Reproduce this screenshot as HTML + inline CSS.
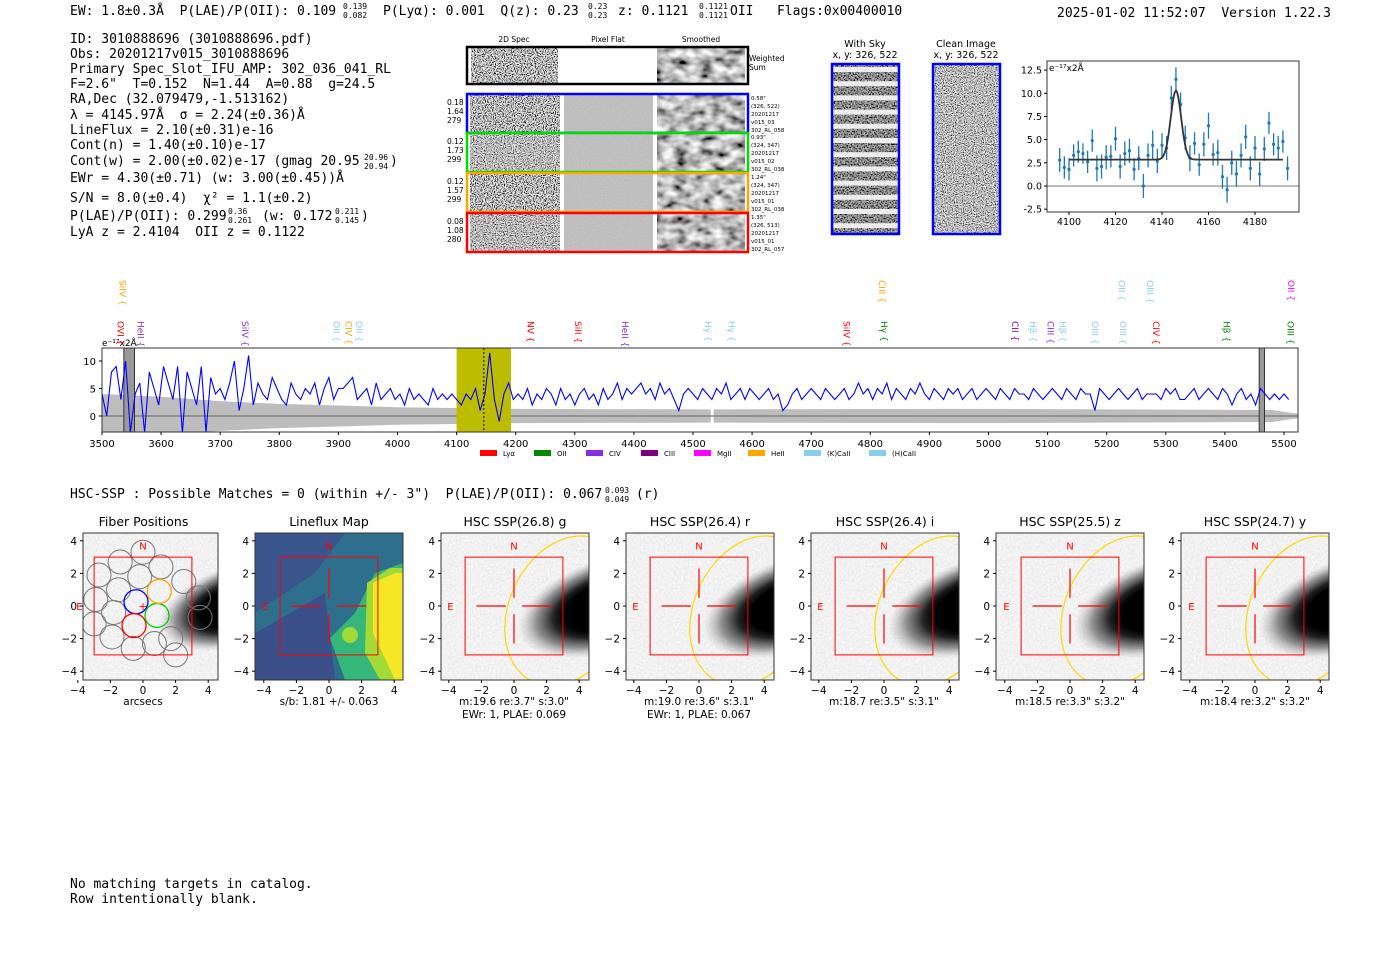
<!DOCTYPE html>
<html><head><meta charset="utf-8">
<style>
html,body{margin:0;padding:0;background:#fff;}
svg{display:block;}
.mono{font-family:"DejaVu Sans Mono","Liberation Mono",monospace;font-size:13px;fill:#000;white-space:pre;}
.sans{font-family:"DejaVu Sans","Liberation Sans",sans-serif;}
</style></head>
<body>
<svg id="root" width="1400" height="953" viewBox="0 0 1400 953" xmlns="http://www.w3.org/2000/svg" xml:space="preserve">
<defs>
<filter id="noiseA" x="0" y="0" width="100%" height="100%"><feTurbulence type="fractalNoise" baseFrequency="0.9" numOctaves="1" seed="3"/><feColorMatrix type="matrix" values="3.2 0 0 0 -1.1  3.2 0 0 0 -1.1  3.2 0 0 0 -1.1  0 0 0 0 1"/></filter>
<filter id="noiseB" x="0" y="0" width="100%" height="100%"><feTurbulence type="fractalNoise" baseFrequency="0.9" numOctaves="1" seed="11"/><feColorMatrix type="matrix" values="2.4 0 0 0 -0.7  2.4 0 0 0 -0.7  2.4 0 0 0 -0.7  0 0 0 0 1"/></filter>
<filter id="smooth" x="0" y="0" width="100%" height="100%"><feTurbulence type="fractalNoise" baseFrequency="0.08 0.12" numOctaves="2" seed="5"/><feColorMatrix type="matrix" values="1.6 0 0 0 -0.3  1.6 0 0 0 -0.3  1.6 0 0 0 -0.3  0 0 0 0 1"/></filter>
<filter id="flat" x="0" y="0" width="100%" height="100%"><feTurbulence type="fractalNoise" baseFrequency="0.9" numOctaves="1" seed="2"/><feColorMatrix type="matrix" values="0.2 0 0 0 0.42  0.2 0 0 0 0.42  0.2 0 0 0 0.42  0 0 0 0 1"/></filter>
<filter id="skyf" x="0" y="0" width="100%" height="100%"><feTurbulence type="fractalNoise" baseFrequency="0.7" numOctaves="1" seed="7"/><feColorMatrix type="matrix" values="1.4 0 0 0 -0.45  1.4 0 0 0 -0.45  1.4 0 0 0 -0.45  0 0 0 0 1"/></filter>
<filter id="lightnoise" x="0" y="0" width="100%" height="100%"><feTurbulence type="fractalNoise" baseFrequency="0.5" numOctaves="1" seed="9"/><feColorMatrix type="matrix" values="0.25 0 0 0 0.76  0.25 0 0 0 0.76  0.25 0 0 0 0.76  0 0 0 0 1"/></filter>
<radialGradient id="galaxy" cx="0.5" cy="0.5" r="0.5"><stop offset="0" stop-color="#000"/><stop offset="0.5" stop-color="#000"/><stop offset="0.62" stop-color="#222"/><stop offset="0.8" stop-color="#777" stop-opacity="0.8"/><stop offset="1" stop-color="#bbb" stop-opacity="0"/></radialGradient>
</defs>

<!-- header -->
<text class="mono" x="70" y="15">EW: 1.8±0.3Å  P(LAE)/P(OII): 0.109</text>
<text class="mono" x="343" y="9" style="font-size:8px">0.139</text>
<text class="mono" x="343" y="18" style="font-size:8px">0.082</text>
<text class="mono" x="383" y="15">P(Lyα): 0.001  Q(z): 0.23</text>
<text class="mono" x="588" y="9" style="font-size:8px">0.23</text>
<text class="mono" x="588" y="18" style="font-size:8px">0.23</text>
<text class="mono" x="618" y="15">z: 0.1121</text>
<text class="mono" x="699" y="9" style="font-size:8px">0.1121</text>
<text class="mono" x="699" y="18" style="font-size:8px">0.1121</text>
<text class="mono" x="730" y="15">OII   Flags:0x00400010</text>
<text class="mono" x="1057" y="17">2025-01-02 11:52:07  Version 1.22.3</text>

<g class="mono">
<text class="mono" x="70" y="43">ID: 3010888696 (3010888696.pdf)</text>
<text class="mono" x="70" y="58">Obs: 20201217v015_3010888696</text>
<text class="mono" x="70" y="73">Primary Spec_Slot_IFU_AMP: 302_036_041_RL</text>
<text class="mono" x="70" y="88">F=2.6"  T=0.152  N=1.44  A=0.88  g=24.5</text>
<text class="mono" x="70" y="103">RA,Dec (32.079479,-1.513162)</text>
<text class="mono" x="70" y="119">λ = 4145.97Å  σ = 2.24(±0.36)Å</text>
<text class="mono" x="70" y="134">LineFlux = 2.10(±0.31)e-16</text>
<text class="mono" x="70" y="149">Cont(n) = 1.40(±0.10)e-17</text>
<text class="mono" x="70" y="165">Cont(w) = 2.00(±0.02)e-17 (gmag 20.95</text>
<text class="mono" x="364" y="160" style="font-size:8px">20.96</text><text class="mono" x="364" y="169" style="font-size:8px">20.94</text><text class="mono" x="390" y="165">)</text>
<text class="mono" x="70" y="182">EWr = 4.30(±0.71) (w: 3.00(±0.45))Å</text>
<text class="mono" x="70" y="202">S/N = 8.0(±0.4)  χ² = 1.1(±0.2)</text>
<text class="mono" x="70" y="220">P(LAE)/P(OII): 0.299</text>
<text class="mono" x="228" y="214" style="font-size:8px">0.36</text><text class="mono" x="228" y="223" style="font-size:8px">0.261</text>
<text class="mono" x="262" y="220">(w: 0.172</text><text class="mono" x="335" y="214" style="font-size:8px">0.211</text><text class="mono" x="335" y="223" style="font-size:8px">0.145</text><text class="mono" x="361" y="220">)</text>
<text class="mono" x="70" y="236">LyA z = 2.4104  OII z = 0.1122</text>
</g>

<g id="cutouts"></g>
<g id="sky"></g>
<g id="fit"></g>
<g id="spec"></g>

<text class="mono" x="70" y="498">HSC-SSP : Possible Matches = 0 (within +/- 3")  P(LAE)/P(OII): 0.067</text>
<text class="mono" x="605" y="493" style="font-size:8px">0.093</text>
<text class="mono" x="605" y="502" style="font-size:8px">0.049</text>
<text class="mono" x="636" y="498">(r)</text>

<g id="panels"></g>

<text class="mono" x="70" y="888">No matching targets in catalog.</text>
<text class="mono" x="70" y="903">Row intentionally blank.</text>
</svg>
<script>
// ---------- data ----------
const fitWave = [4096,4098,4100,4102,4104,4106,4108,4110,4112,4114,4116,4118,4120,4122,4124,4126,4128,4130,4132,4134,4136,4138,4140,4142,4144,4146,4148,4150,4152,4154,4156,4158,4160,4162,4164,4166,4168,4170,4172,4174,4176,4178,4180,4182,4184,4186,4188,4190,4192,4194];
const fitFlux = [2.8,2.0,1.8,3.3,3.7,3.5,2.6,4.9,1.9,2.1,3.1,3.2,5.1,2.1,3.5,3.8,1.8,3.0,0.0,3.3,4.4,2.7,4.4,4.1,9.5,11.5,8.8,5.2,3.0,4.6,2.3,4.5,6.5,3.4,3.6,1.0,-0.4,2.5,1.3,3.3,5.3,1.9,4.1,1.3,4.0,6.8,4.5,4.1,4.8,1.9];
const fitErr = [1.3,1.2,1.2,1.2,1.2,1.1,1.2,1.2,1.4,1.3,1.3,1.2,1.3,1.3,1.3,1.3,1.2,1.3,1.3,1.3,1.6,1.3,1.3,1.3,1.3,1.3,1.3,1.3,1.4,1.2,1.2,1.3,1.4,1.2,1.4,1.3,1.4,1.3,1.4,1.3,1.3,1.3,1.3,1.3,1.3,1.2,1.2,1.3,1.2,1.3];
const fitCont = 2.85, fitPeak = 10.3, fitCenter = 4146, fitSigma = 2.24;
const fitXTicks = [4100,4120,4140,4160,4180];
const fitYTicks = [-2.5,0.0,2.5,5.0,7.5,10.0,12.5];

const specStart = 3500, specStep = 8;
const specFlux = [
4,0,8,9,3,10,-3,4,6,-3,8,5,2,9,6,3,9,-3,8,5,2,9,-3,7,4,5,
3,6,10,1,5,11,2,6,4,3,7,5,3,2,6,4,3,5,4,6,2,5,7,3,5,
5,6,7,3,4,5,2,6,3,4,5,3,4,2,5,3,4,3,2,5,3,4,3,4,3,
2,4,3,5,1,4,11.5,3,-1,4,6,3,
4,3,5,2,4,3,5,4,2,5,3,4,2,4,5,3,4,2,5,3,4,6,3,5,4,5,6,4,5,3,6,4,5,3,1,4,5,4,
3,5,4,3,5,4,6,3,4,5,3,5,4,3,4,5,3,4,1,2,4,5,3,4,5,4,3,5,4,3,4,
5,3,4,6,4,5,3,5,4,6,3,5,4,3,5,4,6,4,3,5,4,3,5,4,5,3,4,5,3,4,
5,4,3,5,4,3,5,4,4,3,5,4,3,4,5,4,3,5,4,3,5,4,4,1,5,4,3,4,5,4,3,4,5,3,4,4,4,3,5,4,5,3,3,
4,5,3,4,5,4,3,5,4,2,4,5,3,4,2,5,4,3,4,3,4,3
];
const errWave = [3500,3600,3700,3800,3900,4000,4200,4530,4535,5000,5480,5524];
const errHi = [4.0,3.5,2.7,2.2,1.9,1.6,1.3,1.2,1.2,1.3,1.1,0.4];
const specXTicks = [3500,3600,3700,3800,3900,4000,4100,4200,4300,4400,4500,4600,4700,4800,4900,5000,5100,5200,5300,5400,5500];
const specYTicks = [0,5,10];
const lineNames = ["OVI","HeII","SiIV","OII","CIV","OII","NV","SiII","HeII","Hγ","Hγ","SiIV","Hγ","CII","Hβ","CIII","Hβ","OIII","OIII","CIV","Hβ","OIII","SiIV","CIII","OII","OIII","OII"];
const lineWave = [3531,3565,3742,3897,3917,3935,4225,4305,4385,4525,4565,4760,4823,5045,5075,5105,5125,5180,5228,5283,5403,5511,3535,4820,5225,5273,5512];
const lineRow = [0,0,0,0,0,0,0,0,0,0,0,0,0,0,0,0,0,0,0,0,0,0,1,1,1,1,1];
const lineColor = ["#f00","#8b2fb0","#8a2be2","#87ceeb","#ffa500","#87ceeb","#f00","#f00","#8a2be2","#87ceeb","#87ceeb","#f00","#080","#800080","#87ceeb","#8a2be2","#87ceeb","#87ceeb","#87ceeb","#f00","#080","#080","#ffa500","#ffa500","#87ceeb","#87ceeb","#f0f"];
const legendNames = ["Lyα","OII","CIV","CIII","MgII","HeII","(K)CaII","(H)CaII"];
const legendColors = ["#f00","#080","#8a2be2","#800080","#f0f","#ffa500","#87ceeb","#87ceeb"];

const panelTitles = ["Fiber Positions","Lineflux Map","HSC SSP(26.8) g","HSC SSP(26.4) r","HSC SSP(26.4) i","HSC SSP(25.5) z","HSC SSP(24.7) y"];
const panelCaption1 = ["arcsecs","s/b: 1.81 +/- 0.063","m:19.6  re:3.7\"  s:3.0\"","m:19.0  re:3.6\"  s:3.1\"","m:18.7  re:3.5\"  s:3.1\"","m:18.5  re:3.3\"  s:3.2\"","m:18.4  re:3.2\"  s:3.2\""];
const panelCaption2 = ["","","EWr: 1, PLAE: 0.069","EWr: 1, PLAE: 0.067","","",""];
const panelTicks = [-4,-2,0,2,4];
const fiberX = [0,-1.4,1.1,-2.7,-0.2,2.5,-1.5,-2.9,-1.8,-3.0,-1.9,-0.6,0.7,2.0,3.4,3.5,1.7];
const fiberY = [3.3,2.7,2.4,1.9,1.8,1.5,1.0,0.4,-0.4,-1.1,-1.9,-2.6,-2.3,-3.0,0.5,-0.7,-2.0];
const colorFiberX = [-0.43,-0.55,0.86,1.0];
const colorFiberY = [0.26,-1.2,-0.58,0.9];
const colorFiberC = ["#00f","#f00","#0c0","#ffa500"];

// ---------- helpers ----------
const NS = "http://www.w3.org/2000/svg";
function mk(parent, tag, attrs, txt){
  const e = document.createElementNS(NS, tag);
  for (const k in attrs) e.setAttribute(k, attrs[k]);
  if (txt !== undefined) e.textContent = txt;
  parent.appendChild(e); return e;
}
const SANS = '"DejaVu Sans","Liberation Sans",sans-serif';

// ---------- cutouts ----------
(function(){
  const g = document.getElementById('cutouts');
  const hdr = [["2D Spec",514],["Pixel Flat",608],["Smoothed",701]];
  hdr.forEach(h=>{ const t=mk(g,'text',{x:h[1],y:42,'text-anchor':'middle','font-size':7.5,'font-family':SANS},h[0]);
      });
  mk(g,'rect',{x:471,y:47,width:87,height:37,filter:'url(#noiseA)'});
  mk(g,'rect',{x:657,y:47,width:88,height:37,filter:'url(#smooth)'});
  const ws = mk(g,'rect',{x:467,y:47,width:281,height:37,fill:'none',stroke:'#000','stroke-width':2.5});
   
  mk(g,'text',{x:749,y:61,'font-size':7.5,'font-family':SANS},'Weighted');
  mk(g,'text',{x:749,y:70,'font-size':7.5,'font-family':SANS},'Sum');
  const rows = [[94,'#00f',["0.18","1.64","279"],["0.58\"","(326, 522)","20201217","v015_03","302_RL_058"]],
                [133,'#0d0',["0.12","1.73","299"],["0.93\"","(324, 347)","20201217","v015_02","302_RL_038"]],
                [173,'#ffa500',["0.12","1.57","299"],["1.24\"","(324, 347)","20201217","v015_01","302_RL_038"]],
                [213,'#f00',["0.08","1.08","280"],["1.35\"","(326, 513)","20201217","v015_01","302_RL_057"]]];
  rows.forEach((r,i)=>{
    const y=r[0];
    mk(g,'rect',{x:470,y:y,width:90,height:39,filter: i%2?'url(#noiseB)':'url(#noiseA)'});
    mk(g,'rect',{x:564,y:y,width:89,height:39,filter:'url(#flat)'});
    mk(g,'rect',{x:657,y:y,width:88,height:39,filter:'url(#smooth)'});
    const b=mk(g,'rect',{x:467,y:y,width:281,height:39,fill:'none',stroke:r[1],'stroke-width':2.5});
     
    r[2].forEach((s,j)=>mk(g,'text',{x:447,y:y+11+j*9,'font-size':7.5,'font-family':SANS},s));
    r[3].forEach((s,j)=>mk(g,'text',{x:751,y:y+6+j*8,'font-size':5.5,'font-family':SANS},s));
  });
})();

// ---------- sky images ----------
(function(){
  const g = document.getElementById('sky');
  mk(g,'text',{x:865,y:47,'text-anchor':'middle','font-size':9.5,'font-family':SANS},'With Sky');
  mk(g,'text',{x:865,y:58,'text-anchor':'middle','font-size':9.5,'font-family':SANS},'x, y: 326, 522');
  mk(g,'text',{x:966,y:47,'text-anchor':'middle','font-size':9.5,'font-family':SANS},'Clean Image');
  mk(g,'text',{x:966,y:58,'text-anchor':'middle','font-size':9.5,'font-family':SANS},'x, y: 326, 522');
  mk(g,'rect',{x:832,y:64,width:67,height:170,filter:'url(#skyf)'});
  for(let k=0;k<12;k++) mk(g,'rect',{x:832,y:67+k*14.2,width:67,height:5,fill:'#fff',opacity:0.85});
  const s=mk(g,'rect',{x:832,y:64,width:67,height:170,fill:'none',stroke:'#00f','stroke-width':2.5});
   
  mk(g,'rect',{x:933,y:64,width:67,height:170,filter:'url(#noiseB)'});
  const c=mk(g,'rect',{x:933,y:64,width:67,height:170,fill:'none',stroke:'#00f','stroke-width':2.5});
   
})();

// ---------- fit plot ----------
(function(){
  const g = document.getElementById('fit');
  const L=1047,R=1299,T=61,B=212;
  const sx = w => 1069 + (w-4100)*(186/80);
  const sy = v => 186 - v*9.27;
  mk(g,'line',{x1:L,x2:R,y1:sy(0),y2:sy(0),stroke:'#777','stroke-width':1});
  fitWave.forEach((w,i)=>{
    const e=mk(g,'line',{x1:sx(w),x2:sx(w),y1:sy(fitFlux[i]-fitErr[i]),y2:sy(fitFlux[i]+fitErr[i]),stroke:'#1f77b4','stroke-width':1.3});
     
    const p=mk(g,'circle',{cx:sx(w),cy:sy(fitFlux[i]),r:1.6,fill:'#1f77b4'});
     
  });
  let d='';
  for(let w=4100; w<=4192; w+=0.5){ const v=fitCont+(fitPeak-fitCont)*Math.exp(-0.5*Math.pow((w-fitCenter)/fitSigma,2)); d+=(d?'L':'M')+sx(w).toFixed(1)+','+sy(v).toFixed(1); }
  const fl=mk(g,'path',{d:d,fill:'none',stroke:'#333','stroke-width':1.8});
   
  mk(g,'rect',{x:L,y:T,width:R-L,height:B-T,fill:'none',stroke:'#333','stroke-width':1});
  fitXTicks.forEach(t=>{ mk(g,'line',{x1:sx(t),x2:sx(t),y1:B,y2:B+3,stroke:'#000'}); mk(g,'text',{x:sx(t),y:B+13,'text-anchor':'middle','font-size':9.5,'font-family':SANS},t); });
  fitYTicks.forEach(t=>{ mk(g,'line',{x1:L-3,x2:L,y1:sy(t),y2:sy(t),stroke:'#000'}); mk(g,'text',{x:L-5,y:sy(t)+3.5,'text-anchor':'end','font-size':9.5,'font-family':SANS},t.toFixed(1)); });
  mk(g,'text',{x:L+2,y:T+10,'font-size':9,'font-family':SANS},'e⁻¹⁷x2Å');
})();

// ---------- spectrum ----------
(function(){
  const g = document.getElementById('spec');
  const L=102,R=1298,T=348,B=432;
  const sx = w => 102 + (w-3500)*0.591;
  const sy = v => 416 - v*5.5;
  const cp = mk(g,'clipPath',{id:'specclip'}); mk(cp,'rect',{x:L,y:T,width:R-L,height:B-T});
  const inner = mk(g,'g',{'clip-path':'url(#specclip)'});
  [[0,8],[8,12]].forEach(seg=>{
    let top='',bot='';
    for(let i=seg[0];i<seg[1];i++){ top+=(top?'L':'M')+sx(errWave[i])+','+sy(errHi[i]); }
    for(let i=seg[1]-1;i>=seg[0];i--){ bot+='L'+sx(errWave[i])+','+sy(-errHi[i]); }
    const e=mk(inner,'path',{d:top+bot+'Z',fill:'#bdbdbd'});
     
  });
  mk(inner,'line',{x1:L,x2:R,y1:sy(0),y2:sy(0),stroke:'#777','stroke-width':1.2});
  const hl=mk(inner,'rect',{x:sx(4100),y:T,width:sx(4192)-sx(4100),height:B-T,fill:'#bdbd00'});
   
  [[3537,3555],[5458,5467]].forEach(m=>{ mk(inner,'rect',{x:sx(m[0]),y:T,width:sx(m[1])-sx(m[0]),height:B-T,fill:'#999',stroke:'#333','stroke-width':1}); });
  let d='';
  specFlux.forEach((v,i)=>{ d+=(i?'L':'M')+sx(specStart+i*specStep).toFixed(1)+','+sy(v).toFixed(1); });
  const sp=mk(inner,'path',{d:d,fill:'none',stroke:'#00f','stroke-width':1.1});
   
  mk(inner,'line',{x1:sx(4146),x2:sx(4146),y1:T,y2:B,stroke:'#000','stroke-dasharray':'2,2','stroke-width':1});
  mk(g,'rect',{x:L,y:T,width:R-L,height:B-T,fill:'none',stroke:'#333','stroke-width':1});
  specXTicks.forEach(t=>{ mk(g,'line',{x1:sx(t),x2:sx(t),y1:B,y2:B+3,stroke:'#000'}); mk(g,'text',{x:sx(t),y:B+15,'text-anchor':'middle','font-size':10,'font-family':SANS},t); });
  specYTicks.forEach(t=>{ mk(g,'line',{x1:L-3,x2:L,y1:sy(t),y2:sy(t),stroke:'#000'}); mk(g,'text',{x:L-6,y:sy(t)+4,'text-anchor':'end','font-size':10,'font-family':SANS},t); });
  mk(g,'text',{x:102,y:346,'font-size':9,'font-family':SANS},'e⁻¹⁷x2Å');
  lineNames.forEach((n,i)=>{
    const x=sx(lineWave[i]); const y = lineRow[i]? 280 : 321;
    const t=mk(g,'text',{x:0,y:0,transform:`translate(${x-3},${y}) rotate(90)`,'font-size':9,'font-family':SANS,fill:lineColor[i]},n+' {');
     
  });
  const lxs=[480,534,586,641,694,748,804,869];
  legendNames.forEach((n,i)=>{
    const r=mk(g,'rect',{x:lxs[i],y:450,width:17,height:6,fill:legendColors[i]});
     
    const t=mk(g,'text',{x:lxs[i]+23,y:456,'font-size':7,'font-family':SANS},n);
     
  });
})();

// ---------- imaging panels ----------
(function(){
  const g = document.getElementById('panels');
  const lefts=[70,255,441,626,811,996,1181];
  const zero=[143,329,514,699,884,1070,1255];
  const T=533,B=680, s=16.3, y0=606;
  panelTitles.forEach((title,i)=>{
    const pg = mk(g,'g',{});
     
    const L = i===0?83:lefts[i], R = i===0?218:lefts[i]+148, x0=zero[i];
    const sx=v=>x0+v*s, sy=v=>y0-v*s;
    const cid='pc'+i; const cp=mk(pg,'clipPath',{id:cid}); mk(cp,'rect',{x:L,y:T,width:R-L,height:B-T});
    const inner=mk(pg,'g',{'clip-path':`url(#${cid})`});
    if(i===1){
      mk(inner,'rect',{x:L,y:T,width:R-L,height:B-T,fill:'#2f6f8e'});
      mk(inner,'polygon',{points:`${L},${T+100} ${L+70},${T+60} ${L+80},${T+147} ${L},${T+147}`,fill:'#3b4f8a'});
      mk(inner,'polygon',{points:`${L},${T} ${L+90},${T} ${L+60},${T+40} ${L},${T+80}`,fill:'#3a548c'});
      mk(inner,'polygon',{points:`${L+75},${T+105} ${L+100},${T+80} ${L+120},${T+40} ${L+148},${T+30} ${L+148},${T+147} ${L+90},${T+147}`,fill:'#35b779'});
      mk(inner,'polygon',{points:`${L+110},${T+120} ${L+112},${T+50} ${L+135},${T+35} ${L+148},${T+35} ${L+148},${T+147} ${L+125},${T+147}`,fill:'#a2da37'});
      mk(inner,'polygon',{points:`${L+118},${T+100} ${L+118},${T+50} ${L+140},${T+40} ${L+148},${T+40} ${L+148},${T+147} ${L+140},${T+147}`,fill:'#f5e626'});
      mk(inner,'circle',{cx:L+95,cy:T+102,r:8,fill:'#a2da37'});
    } else {
      mk(inner,'rect',{x:L,y:T,width:R-L,height:B-T,filter:'url(#lightnoise)'});
      const gcx=sx(6.0), gcy=sy(0.1);
      const gal=mk(inner,'ellipse',{cx:gcx,cy:gcy,rx:(i===0?5.2:6.0)*s,ry:(i===0?2.5:2.9)*s,transform:`rotate(-18 ${gcx} ${gcy})`,fill:'url(#galaxy)'});
       
      if(i>=2){
        const cx=sx(3.2), cy=sy(-0.3);
        const el=mk(inner,'ellipse',{cx:cx,cy:cy,rx:4.8*s,ry:3.5*s,transform:`rotate(-65 ${cx} ${cy})`,fill:'none',stroke:'#ffd700','stroke-width':1.2});
         
      }
    }
    mk(pg,'rect',{x:L,y:T,width:R-L,height:B-T,fill:'none',stroke:'#333','stroke-width':1});
    mk(pg,'rect',{x:sx(-3),y:sy(3),width:6*s,height:6*s,fill:'none',stroke:'#f00','stroke-width':1});
    if(i===0){
      fiberX.forEach((fx,k)=>{ const c=mk(inner,'circle',{cx:sx(fx),cy:sy(fiberY[k]),r:12,fill:'none',stroke:'#777','stroke-width':1});   });
      colorFiberX.forEach((fx,k)=>{ const c=mk(pg,'circle',{cx:sx(fx),cy:sy(colorFiberY[k]),r:12,fill:'none',stroke:colorFiberC[k],'stroke-width':1.3});   });
      mk(pg,'text',{x:sx(0),y:sy(0)+4,'text-anchor':'middle','font-size':11,fill:'#f00','font-family':SANS},'+');
    } else {
      [[-2.3,-0.5],[0.5,2.3]].forEach(a=>mk(pg,'line',{x1:sx(a[0]),x2:sx(a[1]),y1:sy(0),y2:sy(0),stroke:'#f00','stroke-width':1.2}));
      [[0.5,2.3],[-0.5,-2.3]].forEach(a=>mk(pg,'line',{x1:sx(0),x2:sx(0),y1:sy(a[0]),y2:sy(a[1]),stroke:'#f00','stroke-width':1.2}));
    }
    mk(pg,'text',{x:sx(0),y:sy(3.7)+4,'text-anchor':'middle','font-size':10,fill:'#f00','font-family':SANS},'N');
    mk(pg,'text',{x:sx(-3.9),y:sy(0)+4,'text-anchor':'middle','font-size':10,fill:'#f00','font-family':SANS},'E');
    const tt=mk(pg,'text',{x:(L+R)/2+(i===0?-7:0),y:T-7,'text-anchor':'middle','font-size':12.5,'font-family':SANS},title);
     
    panelTicks.forEach(t=>{
      mk(pg,'line',{x1:sx(t),x2:sx(t),y1:B,y2:B+3,stroke:'#000'});
      mk(pg,'text',{x:sx(t),y:B+14,'text-anchor':'middle','font-size':10.5,'font-family':SANS},t<0?'−'+(-t):t);
      mk(pg,'line',{x1:L-3,x2:L,y1:sy(t),y2:sy(t),stroke:'#000'});
      mk(pg,'text',{x:L-6,y:sy(t)+4,'text-anchor':'end','font-size':10.5,'font-family':SANS},t<0?'−'+(-t):t);
    });
    const c1=mk(pg,'text',{x:sx(0),y:B+25,'text-anchor':'middle','font-size':10.5,'font-family':SANS},panelCaption1[i]);
     
    if(panelCaption2[i]) mk(pg,'text',{x:sx(0),y:B+38,'text-anchor':'middle','font-size':10.5,'font-family':SANS},panelCaption2[i]);
  });
})();
</script>
</body></html>
